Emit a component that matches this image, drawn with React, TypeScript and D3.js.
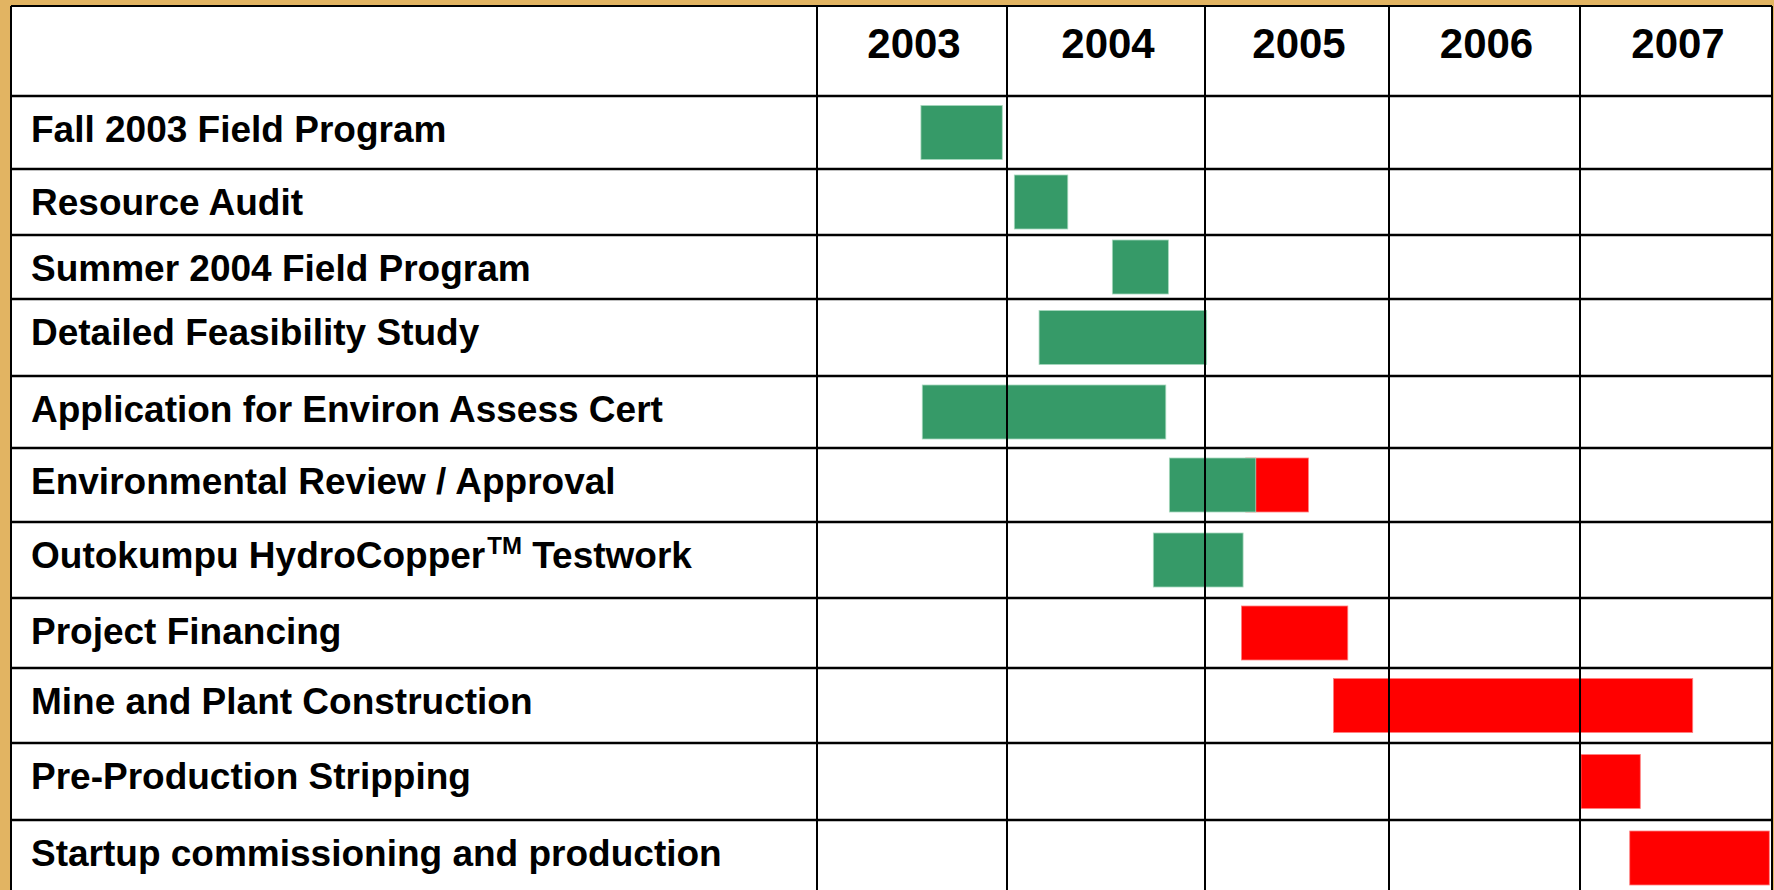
import React, { useEffect, useRef } from "react";
import * as d3 from "d3";

// years shown in the header
const years: string[] = ["2003", "2004", "2005", "2006", "2007"];

// tasks, top to bottom ("^" marks the superscript part)
const tasks: string[] = [
    "Fall 2003 Field Program",
    "Resource Audit",
    "Summer 2004 Field Program",
    "Detailed Feasibility Study",
    "Application for Environ Assess Cert",
    "Environmental Review / Approval",
    "Outokumpu HydroCopper^TM^ Testwork",
    "Project Financing",
    "Mine and Plant Construction",
    "Pre-Production Stripping",
    "Startup commissioning and production",
];

// completed part of each task (fractional years), null = none
const doneStart: (number | null)[] = [2003.547, 2004.037, 2004.532, 2004.162, 2003.554, 2004.82, 2004.739, null, null, null, null];
const doneEnd: (number | null)[] = [2003.975, 2004.307, 2004.815, 2005.009, 2004.802, 2005.276, 2005.207, null, null, null, null];

// planned part of each task
const planStart: (number | null)[] = [null, null, null, null, null, 2005.221, null, 2005.198, 2005.698, 2007.005, 2007.259];
const planEnd: (number | null)[] = [null, null, null, null, null, 2005.562, null, 2005.776, 2007.587, 2007.314, 2007.986];

const App: React.FC = () => {
    const svgRef = useRef<SVGSVGElement | null>(null);

    useEffect(() => {
        if (!svgRef.current) return;
        const svg = d3.select(svgRef.current);
        svg.selectAll("*").remove();

        const width = 1774;
        const height = 890;
        const font = "'Liberation Sans', Arial, Helvetica, sans-serif";

        const tableLeft = 11;
        const tableTop = 6;
        const tableRight = 1772;
        const headerBottom = 96;
        const labelRight = 817;
        const rowHeights = [73, 66, 64, 77, 72, 74, 76, 70, 75, 77, 76];
        const barH = 54;

        // year columns are not quite equal in the original table
        const yearEdges = [2003, 2004, 2005, 2006, 2007, 2008];
        const x = d3
            .scaleLinear()
            .domain(yearEdges)
            .range([labelRight, 1007, 1205, 1389, 1580, tableRight]);

        const rowEdges = [headerBottom];
        rowHeights.forEach((h) => rowEdges.push(rowEdges[rowEdges.length - 1] + h));
        const y = d3
            .scaleLinear()
            .domain(d3.range(rowEdges.length))
            .range(rowEdges);

        svg.attr("width", width).attr("height", height);

        svg.append("rect")
            .attr("width", width)
            .attr("height", height)
            .attr("fill", "#E2B462");

        svg.append("rect")
            .attr("x", tableLeft)
            .attr("y", tableTop)
            .attr("width", tableRight - tableLeft)
            .attr("height", height)
            .attr("fill", "#ffffff");

        // bars: planned (red) first so the completed part sits on top
        const planned = d3.range(tasks.length).filter((i) => planStart[i] !== null);
        svg.append("g")
            .selectAll("rect")
            .data(planned)
            .join("rect")
            .attr("x", (i) => x(planStart[i]!))
            .attr("width", (i) => x(planEnd[i]!) - x(planStart[i]!))
            .attr("y", (i) => (y(i) + y(i + 1)) / 2 - barH / 2)
            .attr("height", barH)
            .attr("fill", "#FF0000")
            .attr("stroke", "#ff8080")
            .attr("stroke-width", 0.8);

        const done = d3.range(tasks.length).filter((i) => doneStart[i] !== null);
        svg.append("g")
            .selectAll("rect")
            .data(done)
            .join("rect")
            .attr("x", (i) => x(doneStart[i]!))
            .attr("width", (i) => x(doneEnd[i]!) - x(doneStart[i]!))
            .attr("y", (i) => (y(i) + y(i + 1)) / 2 - barH / 2)
            .attr("height", barH)
            .attr("fill", "#369A68")
            .attr("stroke", "#a6d8bd")
            .attr("stroke-width", 0.8);

        // grid
        const grid = svg.append("g").attr("stroke", "#000");
        grid.selectAll("line.h")
            .data(d3.range(rowEdges.length - 1))
            .join("line")
            .attr("class", "h")
            .attr("x1", tableLeft)
            .attr("x2", tableRight)
            .attr("y1", (i) => y(i))
            .attr("y2", (i) => y(i))
            .attr("stroke-width", 2.4);

        grid.selectAll("line.v")
            .data(yearEdges)
            .join("line")
            .attr("class", "v")
            .attr("x1", (d) => x(d))
            .attr("x2", (d) => x(d))
            .attr("y1", tableTop)
            .attr("y2", height)
            .attr("stroke-width", 2);

        grid.append("line")
            .attr("x1", tableLeft)
            .attr("x2", tableLeft)
            .attr("y1", tableTop)
            .attr("y2", height)
            .attr("stroke-width", 2);

        grid.append("line")
            .attr("x1", tableLeft)
            .attr("x2", tableRight)
            .attr("y1", tableTop)
            .attr("y2", tableTop)
            .attr("stroke-width", 2);

        // header years
        svg.append("g")
            .selectAll("text")
            .data(years)
            .join("text")
            .attr("x", (d) => (x(+d) + x(+d + 1)) / 2 + 2)
            .attr("y", 58)
            .attr("text-anchor", "middle")
            .style("font-family", font)
            .attr("font-weight", "bold")
            .attr("font-size", "42px")
            .attr("fill", "#000")
            .text((d) => d);

        // task labels
        const labels = svg.append("g")
            .selectAll("text")
            .data(tasks)
            .join("text")
            .attr("x", 31)
            .attr("y", (_d, i) => y(i) + 46)
            .style("font-family", font)
            .attr("font-weight", "bold")
            .attr("font-size", "37px")
            .attr("fill", "#000");

        labels.each(function (d) {
            const t = d3.select(this);
            const parts = d.split("^");
            if (parts.length === 1) {
                t.text(d);
                return;
            }
            t.append("tspan").text(parts[0]);
            t.append("tspan")
                .attr("font-size", "24px")
                .attr("dx", 2)
                .attr("dy", -14)
                .text(parts[1]);
            t.append("tspan")
                .attr("dy", 14)
                .text(parts[2]);
        });
    }, []);

    return (
        <div style={{ position: "fixed", top: 0, left: 0, width: "1774px", height: "890px", overflow: "hidden" }}>
            <svg ref={svgRef} style={{ display: "block" }}></svg>
        </div>
    );
};

export default App;
